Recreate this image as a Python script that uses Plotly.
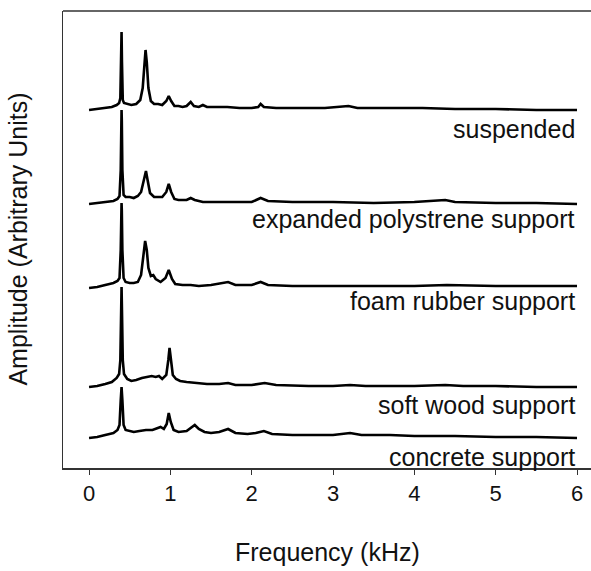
import plotly.graph_objects as go

# Frequency (kHz) / amplitude (arbitrary units) pairs
suspended = [(0.00,358),(0.10,359),(0.20,360),(0.28,361),(0.34,363),(0.37,365),(0.385,370),(0.395,408),
             (0.400,436),(0.405,406),(0.415,368),(0.43,365),(0.47,364),(0.52,363),(0.58,364),(0.63,368),
             (0.66,380),(0.68,403),(0.695,418),(0.71,406),(0.73,380),(0.76,367),(0.80,364),(0.85,364),
             (0.90,363),(0.95,367),(0.98,372),(1.01,367),(1.05,362),(1.10,362),(1.15,361),(1.20,362),
             (1.25,366),(1.29,362),(1.35,361),(1.40,363),(1.45,361),(1.55,361),(1.70,361),(1.85,360),
             (2.00,360),(2.08,361),(2.11,364),(2.15,361),(2.30,360),(2.60,360),(2.90,360),(3.19,362),
             (3.30,360),(3.70,360),(4.10,360),(4.50,359),(5.00,359),(5.50,358),(6.00,358)]

expanded_polystyrene = [(0.00,264),(0.10,265),(0.20,266),(0.30,267),(0.35,269),(0.375,272),(0.39,298),
             (0.397,348),(0.400,358),(0.403,348),(0.41,298),(0.425,273),(0.45,271),(0.50,271),(0.55,270),
             (0.60,272),(0.64,276),(0.67,288),(0.70,297),(0.72,288),(0.75,275),(0.80,271),(0.85,271),
             (0.90,271),(0.95,276),(0.98,284),(1.01,276),(1.05,269),(1.10,268),(1.20,268),(1.25,270),
             (1.30,268),(1.40,266),(1.60,266),(1.80,266),(2.00,266),(2.11,270),(2.20,267),(2.50,266),
             (3.00,266),(3.50,265),(4.00,266),(4.38,268),(4.50,266),(5.00,265),(5.50,265),(6.00,264)]

foam_rubber = [(0.00,180),(0.10,181),(0.20,183),(0.30,185),(0.35,187),(0.375,190),(0.39,218),(0.397,258),
             (0.400,265),(0.403,258),(0.41,218),(0.425,190),(0.45,186),(0.50,185),(0.55,185),(0.60,186),
             (0.64,193),(0.67,213),(0.69,227),(0.71,218),(0.73,200),(0.76,192),(0.79,193),(0.82,189),
             (0.88,186),(0.94,190),(0.98,198),(1.02,189),(1.06,184),(1.15,183),(1.25,183),(1.35,182),
             (1.50,183),(1.71,186),(1.80,183),(2.00,183),(2.11,186),(2.20,183),(2.50,182),(3.00,182),
             (3.50,182),(4.00,182),(4.40,183),(5.00,182),(5.50,182),(6.00,182)]

soft_wood = [(0.00,81),(0.10,82),(0.20,84),(0.28,86),(0.34,90),(0.37,94),(0.385,108),(0.395,158),
             (0.400,181),(0.405,158),(0.415,108),(0.43,94),(0.47,89),(0.52,87),(0.58,88),(0.65,90),
             (0.72,91),(0.77,92),(0.82,91),(0.86,92),(0.90,89),(0.95,93),(0.975,108),(0.99,120),
             (1.005,110),(1.03,93),(1.07,89),(1.12,87),(1.20,86),(1.30,85),(1.45,84),(1.60,84),(1.71,85),
             (1.80,83),(2.00,83),(2.16,85),(2.30,83),(2.70,82),(3.00,82),(3.21,83),(3.40,82),
             (4.00,82),(4.38,83),(4.60,82),(5.00,82),(5.50,81),(6.00,81)]

concrete = [(0.00,30),(0.10,31),(0.20,33),(0.30,35),(0.35,38),(0.375,43),(0.39,68),(0.400,81),
             (0.41,68),(0.425,43),(0.45,38),(0.50,37),(0.55,36),(0.62,37),(0.70,38),(0.78,38),
             (0.85,40),(0.88,41),(0.92,39),(0.955,44),(0.98,55),(1.005,46),(1.04,38),(1.10,36),
             (1.20,37),(1.26,41),(1.30,43),(1.35,39),(1.42,36),(1.50,35),(1.60,36),(1.71,39),
             (1.80,35),(1.95,34),(2.05,35),(2.15,37),(2.25,34),(2.50,33),(2.80,33),(3.00,33),
             (3.21,35),(3.35,33),(3.70,33),(4.00,32),(4.50,32),(5.00,31),(5.50,31),(6.00,30)]

series = [suspended, expanded_polystyrene, foam_rubber, soft_wood, concrete]
labels = ["suspended", "expanded polystrene support", "foam rubber support",
          "soft wood support", "concrete support"]
label_y = [339, 249, 167, 63, 11]
x_ticks = [0, 1, 2, 3, 4, 5, 6]

FONT = "Liberation Sans, Arial, sans-serif"

fig = go.Figure()
for data in series:
    fig.add_trace(go.Scatter(
        x=[p[0] for p in data], y=[p[1] for p in data], mode="lines",
        line=dict(color="black", width=2.6), showlegend=False, hoverinfo="skip"))

for text, yv in zip(labels, label_y):
    fig.add_annotation(x=6.0, y=yv, xref="x", yref="y", text=text, showarrow=False,
                       xanchor="right", yanchor="middle",
                       font=dict(family=FONT, size=25, color="#111"))

fig.add_annotation(x=0.5, y=-0.184, xref="paper", yref="paper", text="Frequency (kHz)",
                   showarrow=False, xanchor="center", yanchor="middle",
                   font=dict(family=FONT, size=25, color="#111"))
fig.add_annotation(x=-0.087, y=0.5, xref="paper", yref="paper", text="Amplitude (Arbitrary Units)",
                   showarrow=False, textangle=-90, xanchor="center", yanchor="middle",
                   font=dict(family=FONT, size=25, color="#111"))

fig.add_shape(type="line", xref="paper", yref="paper", x0=0, x1=1, y0=1, y1=1,
              line=dict(color="#333", width=1.5))

fig.update_layout(
    width=591, height=571,
    margin=dict(l=63, r=0, t=11, b=103),
    paper_bgcolor="white", plot_bgcolor="white",
    xaxis=dict(range=[-0.32, 6.172], tickvals=x_ticks, ticks="outside", ticklen=5,
               tickcolor="#333", tickwidth=1, showgrid=False, zeroline=False,
               showline=True, linecolor="#333", linewidth=1.5,
               tickfont=dict(family=FONT, size=22, color="#111")),
    yaxis=dict(range=[0, 457], showticklabels=False, ticks="", showgrid=False,
               zeroline=False, showline=True, linecolor="#333", linewidth=1.5),
)

fig.write_html("out.html", config={"displayModeBar": False, "staticPlot": True},
               post_script="document.body.style.margin='0';document.body.style.overflow='hidden';")
